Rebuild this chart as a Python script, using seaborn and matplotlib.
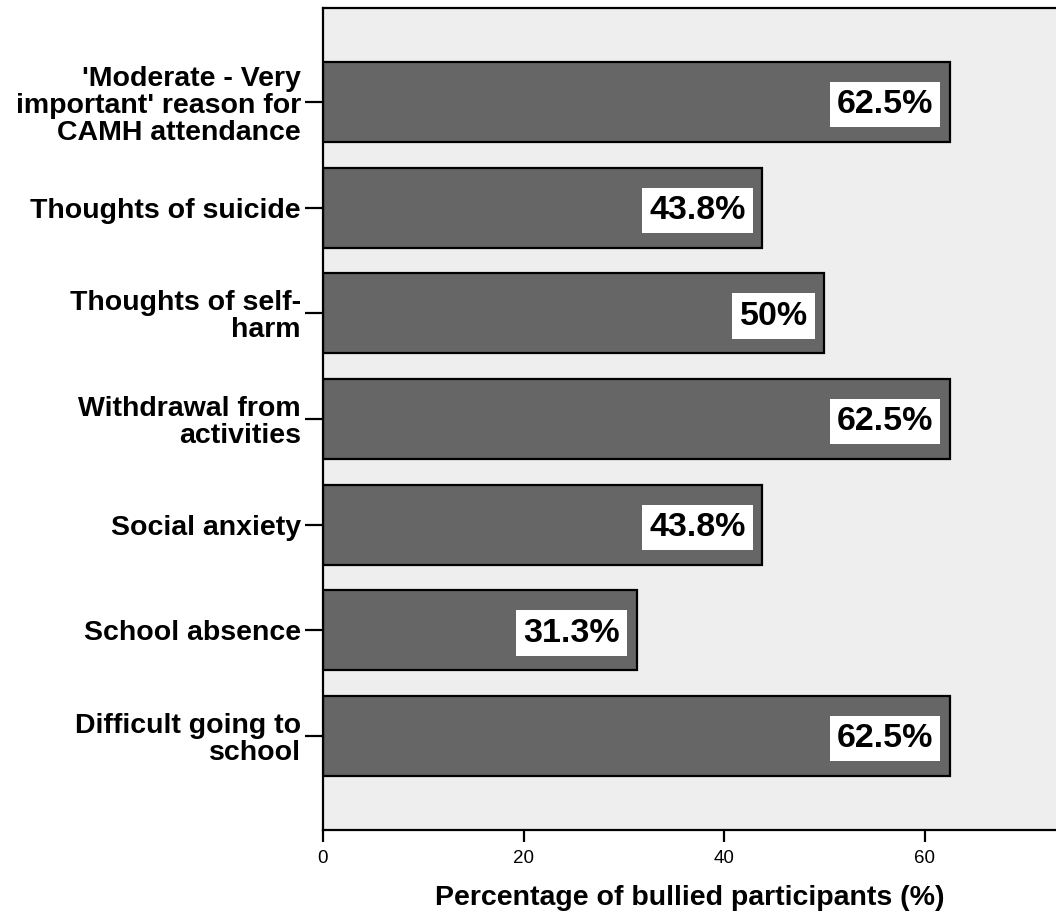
import matplotlib
matplotlib.use('Agg')
import matplotlib.pyplot as plt
import seaborn as sns
import pandas as pd

# --------------
# Data
# --------------
list_reasons = [
    "'Moderate - Very\nimportant' reason for\nCAMH attendance",
    'Thoughts of suicide',
    'Thoughts of self-\nharm',
    'Withdrawal from\nactivities',
    'Social anxiety',
    'School absence',
    'Difficult going to\nschool',
]
list_percent = [62.5, 43.8, 50, 62.5, 43.8, 31.3, 62.5]
list_percent_labels = ['62.5%', '43.8%', '50%', '62.5%', '43.8%', '31.3%', '62.5%']
list_xticks = [0, 20, 40, 60]

df = pd.DataFrame({'Reason': list_reasons, 'Percent': list_percent})

# --------------
# Style
# --------------
sns.set_style('ticks')
plt.rcParams['font.family'] = ['Liberation Sans', 'DejaVu Sans']
plt.rcParams['text.color'] = 'black'
plt.rcParams['axes.labelcolor'] = 'black'
plt.rcParams['xtick.color'] = 'black'
plt.rcParams['ytick.color'] = 'black'

fig = plt.figure(figsize=(10.56, 9.19), dpi=100)
ax = fig.add_axes([323 / 1056, 89 / 919, 733 / 1056, 822 / 919])
ax.set_facecolor('#eeeeee')

sns.barplot(data=df, x='Percent', y='Reason', orient='h', color='#666666',
            saturation=1, edgecolor='black', linewidth=1.6, width=0.756, ax=ax)

# value labels in white boxes
for i, (val, txt) in enumerate(zip(list_percent, list_percent_labels)):
    ax.annotate(txt, xy=(val, i), xytext=(-12, -2), textcoords='offset points',
                ha='right', va='center', fontsize=24.5, fontweight='bold',
                color='black',
                bbox=dict(boxstyle='square,pad=0.21', facecolor='white',
                          edgecolor='none'))

ax.set_xlim(0, 73.1)
ax.set_ylim(6.89, -0.89)
ax.set_xticks(list_xticks)
ax.set_xticklabels([str(t) for t in list_xticks], fontsize=13.5, color='black')
ax.tick_params(axis='x', length=8.5, width=1.6, pad=6, color='black')
ax.tick_params(axis='y', length=13, width=1.6, pad=3, color='black')
for lbl in ax.get_yticklabels():
    lbl.set_fontsize(20.5)
    lbl.set_fontweight('bold')
    lbl.set_color('black')
    lbl.set_linespacing(1.05)

ax.set_ylabel('')
ax.set_xlabel('Percentage of bullied participants (%)', fontsize=20.5,
              fontweight='bold', labelpad=13, color='black')

for side in ['left', 'bottom', 'top']:
    ax.spines[side].set_linewidth(1.6)
    ax.spines[side].set_color('black')
ax.spines['right'].set_visible(False)

fig.savefig('out.png', dpi=100, facecolor='white')
plt.close()
print('// complete ....... plot')
